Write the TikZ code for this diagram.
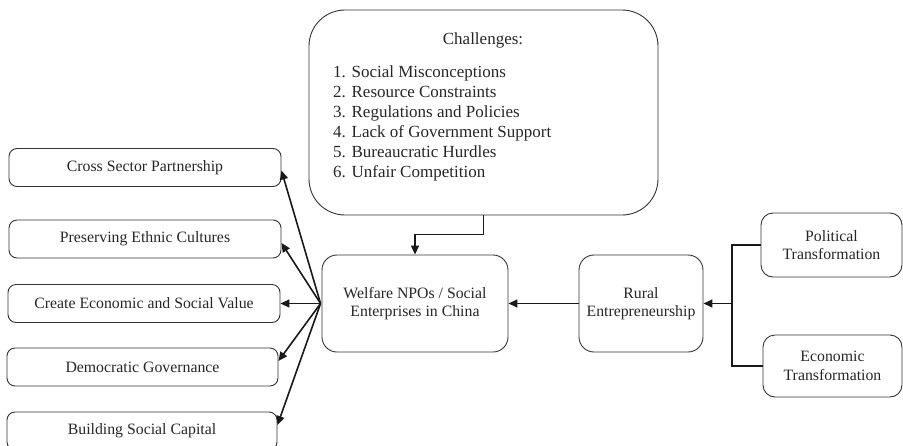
\documentclass[tikz,border=0pt]{standalone}
\usepackage{fontspec}
\setmainfont{Liberation Serif}
\usetikzlibrary{arrows.meta}
\begin{document}
\begin{tikzpicture}[x=1pt,y=-1pt,
  every node/.style={font=\fontsize{15.8}{18.5}\selectfont, text=black!85},
  box/.style={draw=black!80, line width=0.9pt, align=center, inner sep=0pt},
  smallbox/.style={box, rounded corners=8pt, minimum width=272pt, minimum height=38pt},
  midbox/.style={box, rounded corners=15pt},
  conn/.style={line width=1.6pt, draw=black!90},
  arr/.style={conn, -{Triangle[length=9pt,width=8pt]}},
  listfont/.style={font=\fontsize{17}{20}\selectfont},
  item/.style={anchor=base west, inner sep=0pt, listfont}]
\useasboundingbox (0,0) rectangle (903,445);

% outcomes on the left
\node[smallbox] (cross) at (145,167.5) {Cross Sector Partnership};
\node[smallbox] (ethnic) at (145,239) {Preserving Ethnic Cultures};
\node[smallbox] (value) at (144,303.5) {Create Economic and Social Value};
\node[smallbox, minimum width=271pt] (democ) at (142.5,367) {Democratic Governance};
\node[smallbox, minimum width=270pt] (capital) at (142,431) {Building Social Capital};

% challenges
\node[box, rounded corners=36pt, minimum width=349pt, minimum height=205pt] (chal) at (483.5,112.5) {};
\node[inner sep=0pt, listfont] (chaltitle) at (483,40) {Challenges:};
\node[item] (c1) at (333,77) {1. Social Misconceptions};
\node[item] (c2) at (333,97) {2. Resource Constraints};
\node[item] (c3) at (333,117) {3. Regulations and Policies};
\node[item] (c4) at (333,137) {4. Lack of Government Support};
\node[item] (c5) at (333,157) {5. Bureaucratic Hurdles};
\node[item] (c6) at (333,177) {6. Unfair Competition};

% central chain
\node[midbox, minimum width=186pt, minimum height=97pt] (npo) at (415,303.5)
  {Welfare NPOs / Social\\Enterprises in China};
\node[midbox, minimum width=124pt, minimum height=97pt] (rural) at (641,303.5)
  {Rural\\Entrepreneurship};
\node[midbox, rounded corners=12pt, minimum width=141pt, minimum height=64pt] (polit) at (831.5,245)
  {Political\\Transformation};
\node[midbox, rounded corners=12pt, minimum width=139pt, minimum height=62pt] (econ) at (832.5,366)
  {Economic\\Transformation};

% connectors
\coordinate (join) at (732,303.5);
\draw[conn] (polit.west) -| (join) |- (econ.west);
\draw[arr] (join) -- (rural.east);
\draw[arr] (rural.west) -- (npo.east);
\draw[arr] (chal.south) -- ++(0,19) -| (npo.north);

\coordinate (fan) at ([xshift=-1pt]npo.west);
\draw[arr] (fan) -- ([yshift=-3pt]cross.east);
\draw[arr] (fan) -- ([yshift=-4pt]ethnic.east);
\draw[arr] (fan) -- (value.east);
\draw[arr] (fan) -- ([yshift=6pt]democ.east);
\draw[arr] (fan) -- ([yshift=6pt]capital.east);
\end{tikzpicture}
\end{document}
